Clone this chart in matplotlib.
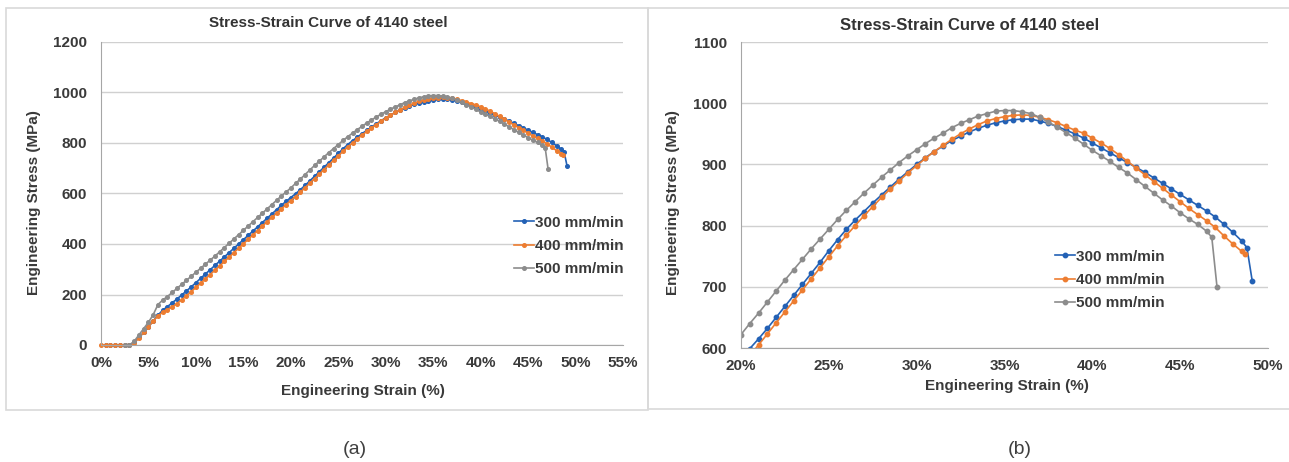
import matplotlib.pyplot as plt
from matplotlib.patches import Rectangle

plt.rcParams['font.family'] = ['Liberation Sans', 'DejaVu Sans']

W, H = 1289, 462

def fx(px):
    return px / W

def fy(py):
    return 1 - py / H

# values (strain in %, stress in MPa)
strain_300 = [0.5, 1.0, 1.5, 2.0, 2.5, 3.0, 3.5, 4.0, 4.5, 5.0, 5.5, 6.0, 6.5, 7.0, 7.5, 8.0, 8.5, 9.0, 9.5, 10.0,
              10.5, 11.0, 11.5, 12.0, 12.5, 13.0, 13.5, 14.0, 14.5, 15.0, 15.5, 16.0, 16.5, 17.0, 17.5, 18.0, 18.5, 19.0, 19.5, 20.0,
              20.5, 21.0, 21.5, 22.0, 22.5, 23.0, 23.5, 24.0, 24.5, 25.0, 25.5, 26.0, 26.5, 27.0, 27.5, 28.0, 28.5, 29.0, 29.5, 30.0,
              30.5, 31.0, 31.5, 32.0, 32.5, 33.0, 33.5, 34.0, 34.5, 35.0, 35.5, 36.0, 36.5, 37.0, 37.5, 38.0, 38.5, 39.0, 39.5, 40.0,
              40.5, 41.0, 41.5, 42.0, 42.5, 43.0, 43.5, 44.0, 44.5, 45.0, 45.5, 46.0, 46.5, 47.0, 47.5, 48.0, 48.5, 48.8, 49.1]
stress_300 = [0, 0, 0, 0, 0, 0, 10, 30, 50, 72, 95, 118, 138, 152, 167, 182, 198, 214, 230, 247,
              264, 281, 298, 315, 332, 349, 366, 383, 400, 417, 434, 451, 468, 485, 502, 519, 536, 553, 569, 584,
              599, 615, 632, 650, 668, 686, 704, 722, 740, 759, 777, 794, 809, 823, 837, 850, 863, 876, 888, 900,
              911, 921, 930, 939, 946, 953, 959, 964, 968, 971, 973, 974, 974, 971, 967, 962, 956, 950, 943, 935,
              927, 919, 911, 903, 895, 887, 878, 869, 860, 851, 842, 833, 824, 814, 802, 789, 775, 764, 710]

strain_400 = [0.0, 0.5, 1.0, 1.5, 2.0, 2.5, 3.0, 3.5, 4.0, 4.5, 5.0, 5.5, 6.0, 6.5, 7.0, 7.5, 8.0, 8.5, 9.0, 9.5, 10.0,
              10.5, 11.0, 11.5, 12.0, 12.5, 13.0, 13.5, 14.0, 14.5, 15.0, 15.5, 16.0, 16.5, 17.0, 17.5, 18.0, 18.5, 19.0, 19.5, 20.0,
              20.5, 21.0, 21.5, 22.0, 22.5, 23.0, 23.5, 24.0, 24.5, 25.0, 25.5, 26.0, 26.5, 27.0, 27.5, 28.0, 28.5, 29.0, 29.5, 30.0,
              30.5, 31.0, 31.5, 32.0, 32.5, 33.0, 33.5, 34.0, 34.5, 35.0, 35.5, 36.0, 36.5, 37.0, 37.5, 38.0, 38.5, 39.0, 39.5, 40.0,
              40.5, 41.0, 41.5, 42.0, 42.5, 43.0, 43.5, 44.0, 44.5, 45.0, 45.5, 46.0, 46.5, 47.0, 47.5, 48.0, 48.5, 48.7]
stress_400 = [0, 0, 0, 0, 0, 0, 0, 8, 28, 50, 72, 95, 115, 130, 140, 151, 164, 179, 195, 211, 228,
              245, 262, 279, 296, 313, 331, 348, 366, 383, 401, 418, 436, 453, 471, 488, 505, 522, 539, 556, 572,
              588, 605, 623, 641, 659, 677, 695, 713, 731, 749, 767, 784, 800, 816, 831, 846, 860, 873, 886, 898,
              910, 921, 931, 941, 950, 958, 965, 971, 975, 978, 980, 981, 980, 977, 973, 968, 962, 956, 951, 943,
              935, 926, 916, 905, 894, 883, 872, 861, 850, 839, 828, 818, 808, 797, 783, 770, 758, 753]

strain_500 = [2.5, 3.0, 3.5, 4.0, 4.5, 5.0, 5.5, 6.0, 6.5, 7.0, 7.5, 8.0, 8.5, 9.0, 9.5, 10.0,
              10.5, 11.0, 11.5, 12.0, 12.5, 13.0, 13.5, 14.0, 14.5, 15.0, 15.5, 16.0, 16.5, 17.0, 17.5, 18.0, 18.5, 19.0, 19.5, 20.0,
              20.5, 21.0, 21.5, 22.0, 22.5, 23.0, 23.5, 24.0, 24.5, 25.0, 25.5, 26.0, 26.5, 27.0, 27.5, 28.0, 28.5, 29.0, 29.5, 30.0,
              30.5, 31.0, 31.5, 32.0, 32.5, 33.0, 33.5, 34.0, 34.5, 35.0, 35.5, 36.0, 36.5, 37.0, 37.5, 38.0, 38.5, 39.0, 39.5, 40.0,
              40.5, 41.0, 41.5, 42.0, 42.5, 43.0, 43.5, 44.0, 44.5, 45.0, 45.5, 46.0, 46.5, 46.8, 47.1]
stress_500 = [0, 0, 15, 40, 65, 90, 120, 160, 178, 192, 208, 224, 240, 256, 272, 288,
              304, 320, 336, 352, 369, 386, 403, 420, 437, 454, 471, 488, 505, 522, 539, 556, 573, 590, 606, 622,
              640, 657, 675, 693, 711, 728, 745, 762, 778, 794, 810, 825, 839, 853, 866, 879, 891, 903, 914, 924,
              934, 943, 951, 960, 967, 973, 979, 983, 987, 988, 988, 986, 983, 977, 969, 961, 952, 943, 933, 923,
              914, 905, 895, 886, 875, 864, 853, 842, 832, 821, 811, 802, 791, 781, 699]

series = [(strain_300, stress_300, '300 mm/min', '#2361b5'),
          (strain_400, stress_400, '400 mm/min', '#ed7d31'),
          (strain_500, stress_500, '500 mm/min', '#8c8c8c')]

title = 'Stress-Strain Curve of 4140 steel'
xlabel = 'Engineering Strain (%)'
ylabel = 'Engineering Stress (MPa)'

xticks_a = [0, 5, 10, 15, 20, 25, 30, 35, 40, 45, 50, 55]
yticks_a = [0, 200, 400, 600, 800, 1000, 1200]
xticks_b = [20, 25, 30, 35, 40, 45, 50]
yticks_b = [600, 700, 800, 900, 1000, 1100]

txt = '#3a3a3a'
fig = plt.figure(figsize=(W / 100, H / 100), dpi=100)

# light frames round each panel
fig.patches.append(Rectangle((fx(6), fy(410)), fx(642), 402 / H, transform=fig.transFigure,
                             fill=False, ec='#d9d9d9', lw=1.2))
fig.patches.append(Rectangle((fx(648), fy(409)), fx(700), 401 / H, transform=fig.transFigure,
                             fill=False, ec='#d9d9d9', lw=1.2))


def panel(box, xticks, yticks, ms, clip, title_pos, title_size, xlab_pos, ylab_pos, leg_pos, cap_pos, cap):
    l, t, r, b = box
    ax = fig.add_axes([fx(l), fy(b), fx(r - l), (b - t) / H])
    for s, v, lab, c in series:
        ax.plot(s, v, color=c, lw=1.2, marker='o', ms=ms, label=lab, clip_on=clip)
    ax.set_xlim(xticks[0], xticks[-1])
    ax.set_ylim(yticks[0], yticks[-1])
    ax.set_xticks(xticks)
    ax.set_xticklabels([f'{v}%' for v in xticks])
    ax.set_yticks(yticks)
    ax.tick_params(length=0, labelsize=11, labelcolor=txt)
    ax.tick_params(axis='x', pad=8)
    ax.tick_params(axis='y', pad=10)
    for lb in ax.get_xticklabels() + ax.get_yticklabels():
        lb.set_fontweight('bold')
    ax.grid(axis='y', color='#d0d0d0', lw=1)
    ax.set_axisbelow(True)
    for sp in ['top', 'right']:
        ax.spines[sp].set_visible(False)
    for sp in ['left', 'bottom']:
        ax.spines[sp].set_color('#a6a6a6')
    fig.text(fx(title_pos[0]), fy(title_pos[1]), title, ha='center', va='center',
             fontsize=title_size, fontweight='bold', color='#333333')
    fig.text(fx(xlab_pos[0]), fy(xlab_pos[1]), xlabel, ha='center', va='center',
             fontsize=11, fontweight='bold', color=txt)
    fig.text(fx(ylab_pos[0]), fy(ylab_pos[1]), ylabel, ha='center', va='center', rotation=90,
             fontsize=11, fontweight='bold', color=txt)
    leg = ax.legend(loc='center right', bbox_to_anchor=(fx(leg_pos[0]), fy(leg_pos[1])),
                    bbox_transform=fig.transFigure, frameon=False, handlelength=1.3,
                    handletextpad=0.1, labelspacing=0.6, borderpad=0, borderaxespad=0,
                    prop={'size': 11, 'weight': 'bold'})
    for t_ in leg.get_texts():
        t_.set_color(txt)
    fig.text(fx(cap_pos[0]), fy(cap_pos[1]), cap, ha='center', va='center', fontsize=14, color='#404040')
    return ax


panel((101, 42, 623, 345), xticks_a, yticks_a, 2.6, False,
      (328, 23), 11, (363, 391), (34, 203), (624, 246), (355, 449), '(a)')
panel((741, 42, 1268, 348), xticks_b, yticks_b, 3.2, True,
      (970, 25), 12, (1007, 386), (673, 203), (1165, 280), (1020, 449), '(b)')

fig.savefig('out.png', dpi=100)
